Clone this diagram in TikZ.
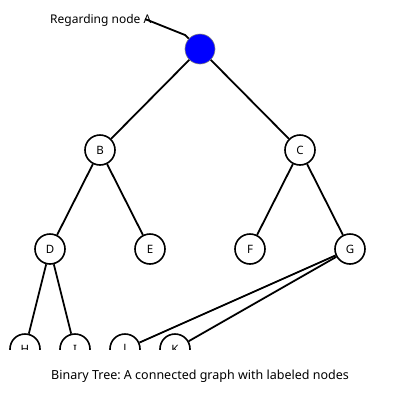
\documentclass[tikz,border=0pt]{standalone}
\usepackage{fontspec}
\setmainfont{Noto Sans}
\frenchspacing
\usetikzlibrary{positioning}

\begin{document}
\begin{tikzpicture}[x=1pt,y=-1pt,
  vertex/.style={circle,draw,line width=1.6pt,fill=white,minimum size=30pt,inner sep=0pt,font=\fontsize{11.5}{12}\selectfont},
  root/.style={vertex,fill=blue,draw=gray,line width=0.6pt},
  edge/.style={line width=1.8pt}]
 \useasboundingbox (0,0) rectangle (400,400);
 \begin{scope}
  \clip (0,0) rectangle (400,349);
  % tree nodes
  \node[root]   (A) at (200,49) {};
  \node[vertex] (B) at (100,150) {B};
  \node[vertex] (C) at (300,150) {C};
  \node[vertex] (D) at (50,249) {D};
  \node[vertex] (E) at (150,249) {E};
  \node[vertex] (F) at (250,249) {F};
  \node[vertex] (G) at (350,249) {G};
  \node[vertex] (H) at (25,349) {H};
  \node[vertex] (I) at (75,349) {I};
  \node[vertex] (J) at (125,349) {J};
  \node[vertex] (K) at (175,349) {K};
  % edges
  \draw[edge] (A) -- (B);
  \draw[edge] (A) -- (C);
  \draw[edge] (B) -- (D);
  \draw[edge] (B) -- (E);
  \draw[edge] (C) -- (F);
  \draw[edge] (C) -- (G);
  \draw[edge] (D) -- (H);
  \draw[edge] (D) -- (I);
  \draw[edge] (G) -- (J);
  \draw[edge] (G) -- (K);
 \end{scope}
 % callout
 \node[anchor=west,inner sep=0pt,font=\fontsize{12}{12}\selectfont] (note) at (50,20) {Regarding node A};
 \coordinate (tip) at (145,19);
 \coordinate (kink) at (185,35);
 \draw[line width=1.8pt] (tip) -- (kink) -- (A);
 % caption
 \node[font=\fontsize{12.5}{13}\selectfont] (caption) at (200,376) {Binary Tree: A connected graph with labeled nodes};
\end{tikzpicture}
\end{document}
